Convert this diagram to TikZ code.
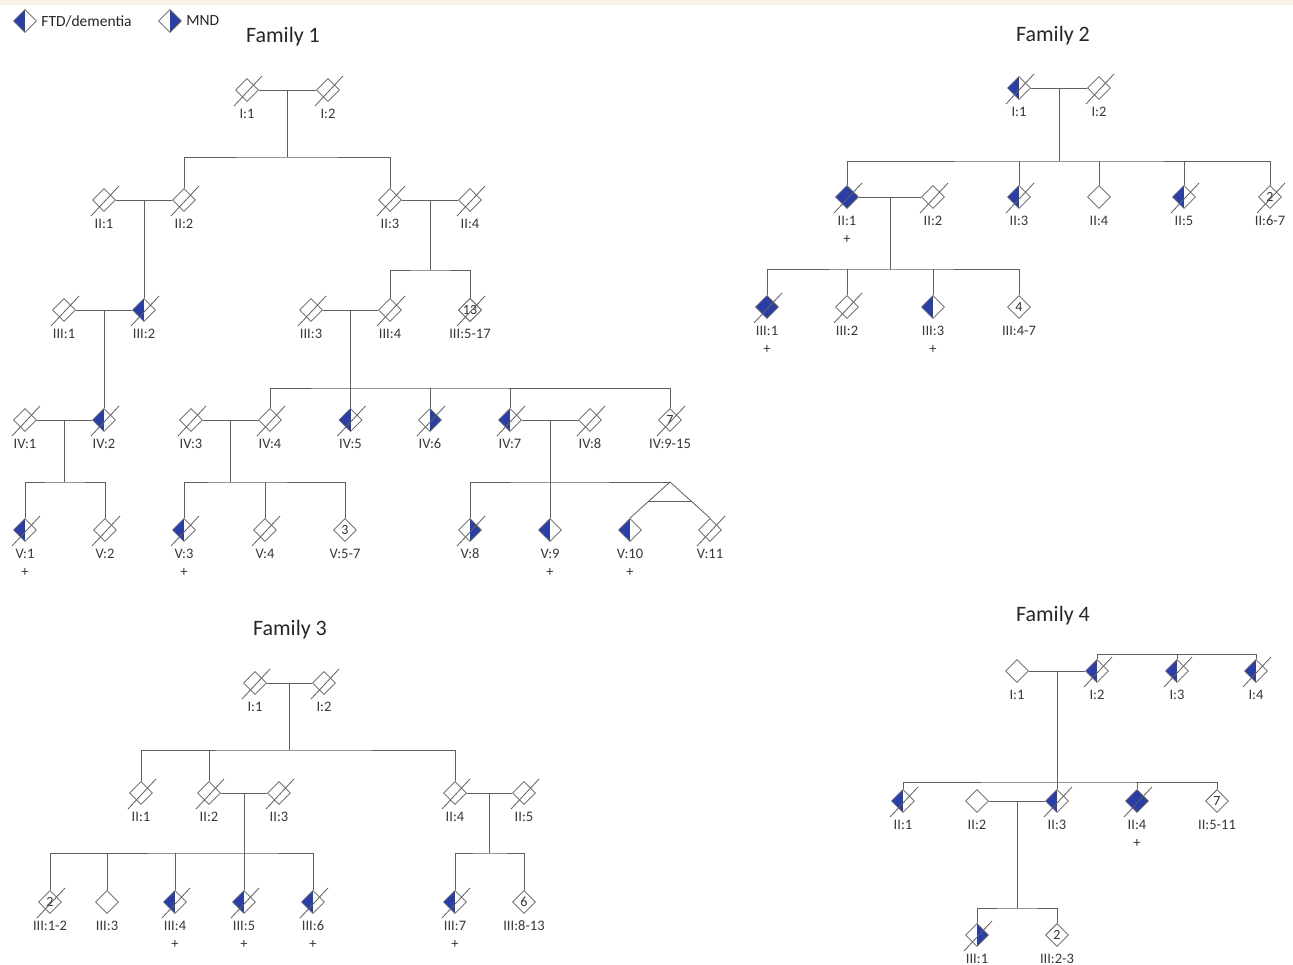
\documentclass[tikz,border=0pt]{standalone}
\usepackage{fontspec}
\setmainfont{Carlito}
\usetikzlibrary{shapes.geometric,calc}

\definecolor{fblue}{RGB}{43,62,166}
\definecolor{lgray}{RGB}{95,95,95}
\definecolor{band}{RGB}{247,243,228}

\begin{document}
\begin{tikzpicture}[x=1pt,y=-1pt,
  ind/.style={diamond,draw=lgray,line width=0.8pt,minimum width=23pt,minimum height=23pt,inner sep=0pt,font=\fontsize{14}{14}\selectfont,text=black!80},
  ftd/.style={path picture={\fill[fblue] (path picture bounding box.south west) rectangle (path picture bounding box.north);}},
  mnd/.style={path picture={\fill[fblue] (path picture bounding box.south) rectangle (path picture bounding box.north east);}},
  both/.style={fill=fblue},
  dead/.style={append after command={(\tikzlastnode.center) ++(-13pt,-16pt) edge[lgray,line width=0.8pt] ++(28pt,30pt)}},
  lbl/.style={font=\fontsize{14.5}{14.5}\selectfont,text=black!78},
  pid/.style={label={[lbl,yshift=-3.5pt]below:{#1}}},
  tested/.style={label={[lbl,yshift=-23pt]below:+}},
  line/.style={draw=lgray,line width=0.8pt},
  title/.style={font=\fontsize{22}{22}\selectfont,text=black!85},
  lgd/.style={font=\fontsize{15.5}{15.5}\selectfont,text=black!85,anchor=west}]
\useasboundingbox (0,0) rectangle (1293,965);
\fill[white] (0,0) rectangle (1293,965);
\fill[band] (0,0) rectangle (1293,5);
%
% legend
\node[ind,ftd] (legF) at (25,21) {};
\node[lgd] (legFt) at ([xshift=1pt]legF.east) {FTD/dementia};
\node[ind,mnd] (legM) at (170,21) {};
\node[lgd] (legMt) at ([xshift=1pt]legM.east) {MND};
%
% Family 1
\node[title] (t1) at (283,37) {Family 1};
\node[ind,dead,pid={I:1}] (F1I1) at (247,90) {};
\node[ind,dead,pid={I:2}] (F1I2) at (328,90) {};
\node[ind,dead,pid={II:1}] (F1II1) at (104,200) {};
\node[ind,dead,pid={II:2}] (F1II2) at (184,200) {};
\node[ind,dead,pid={II:3}] (F1II3) at (390,200) {};
\node[ind,dead,pid={II:4}] (F1II4) at (470,200) {};
\node[ind,dead,pid={III:1}] (F1III1) at (64,310) {};
\node[ind,dead,ftd,pid={III:2}] (F1III2) at (144,310) {};
\node[ind,dead,pid={III:3}] (F1III3) at (311,310) {};
\node[ind,dead,pid={III:4}] (F1III4) at (390,310) {};
\node[ind,dead,pid={III:5-17}] (F1III5) at (470,310) {13};
\node[ind,dead,pid={IV:1}] (F1IV1) at (25,420) {};
\node[ind,dead,ftd,pid={IV:2}] (F1IV2) at (104,420) {};
\node[ind,dead,pid={IV:3}] (F1IV3) at (191,420) {};
\node[ind,dead,pid={IV:4}] (F1IV4) at (270,420) {};
\node[ind,dead,ftd,pid={IV:5}] (F1IV5) at (350.5,420) {};
\node[ind,dead,mnd,pid={IV:6}] (F1IV6) at (430,420) {};
\node[ind,dead,ftd,pid={IV:7}] (F1IV7) at (510,420) {};
\node[ind,dead,pid={IV:8}] (F1IV8) at (590,420) {};
\node[ind,dead,pid={IV:9-15}] (F1IV9) at (670,420) {7};
\node[ind,dead,ftd,tested,pid={V:1}] (F1V1) at (25,530) {};
\node[ind,dead,pid={V:2}] (F1V2) at (105,530) {};
\node[ind,dead,ftd,tested,pid={V:3}] (F1V3) at (184,530) {};
\node[ind,dead,pid={V:4}] (F1V4) at (265,530) {};
\node[ind,pid={V:5-7}] (F1V5) at (345,530) {3};
\node[ind,dead,mnd,pid={V:8}] (F1V8) at (470,530) {};
\node[ind,ftd,tested,pid={V:9}] (F1V9) at (550,530) {};
\node[ind,ftd,tested,pid={V:10}] (F1V10) at (630,530) {};
\node[ind,dead,pid={V:11}] (F1V11) at (710,530) {};
%
\draw[line] (F1I1) -- (F1I2);
\draw[line] ($(F1I1)!.5!(F1I2)$) -- ++(0,67) coordinate (F1s1);
\draw[line] (F1II2) |- (F1s1) -| (F1II3);
\draw[line] (F1II1) -- (F1II2);
\draw[line] ($(F1II1)!.5!(F1II2)$) -- (F1III2);
\draw[line] (F1II3) -- (F1II4);
\draw[line] ($(F1II3)!.5!(F1II4)$) -- ++(0,70) coordinate (F1s2);
\draw[line] (F1III4) |- (F1s2) -| (F1III5);
\draw[line] (F1III1) -- (F1III2);
\draw[line] ($(F1III1)!.5!(F1III2)$) -- (F1IV2);
\draw[line] (F1III3) -- (F1III4);
\draw[line] ($(F1III3)!.5!(F1III4)$) -- ++(0,78) coordinate (F1s3);
\draw[line] (F1IV4) |- (F1s3) -| (F1IV9);
\draw[line] (F1IV5) -- (F1s3);
\draw[line] (F1IV6) -- (F1IV6 |- F1s3);
\draw[line] (F1IV7) -- (F1IV7 |- F1s3);
\draw[line] (F1IV1) -- (F1IV2);
\draw[line] ($(F1IV1)!.5!(F1IV2)$) -- ++(0,62) coordinate (F1s4);
\draw[line] (F1V1) |- (F1s4) -| (F1V2);
\draw[line] (F1IV3) -- (F1IV4);
\draw[line] ($(F1IV3)!.5!(F1IV4)$) -- ++(0,62) coordinate (F1s5);
\draw[line] (F1V3) |- (F1s5) -| (F1V5);
\draw[line] (F1V4) -- (F1V4 |- F1s5);
\draw[line] (F1IV7) -- (F1IV8);
\draw[line] ($(F1IV7)!.5!(F1IV8)$) -- ++(0,62) coordinate (F1s6);
\coordinate (F1tw) at (F1s6 -| F1V11);
\coordinate (F1tw) at ($(F1tw)!.5!(F1s6 -| F1V10)$);
\draw[line] (F1V8) |- (F1s6) -- (F1tw);
\draw[line] (F1V9) -- (F1s6);
\draw[line] (F1V10.north) -- (F1tw) -- (F1V11.north);
\draw[line] ($(F1tw)!.55!(F1V10.north)$) -- ($(F1tw)!.55!(F1V11.north)$);
%
% Family 2
\node[title] (t2) at (1053,36) {Family 2};
\node[ind,dead,ftd,pid={I:1}] (F2I1) at (1019,88) {};
\node[ind,dead,pid={I:2}] (F2I2) at (1099,88) {};
\node[ind,dead,both,tested,pid={II:1}] (F2II1) at (847,197) {};
\node[ind,dead,pid={II:2}] (F2II2) at (933,197) {};
\node[ind,dead,ftd,pid={II:3}] (F2II3) at (1019,197) {};
\node[ind,pid={II:4}] (F2II4) at (1099,197) {};
\node[ind,dead,ftd,pid={II:5}] (F2II5) at (1184,197) {};
\node[ind,dead,pid={II:6-7}] (F2II6) at (1270,197) {2};
\node[ind,dead,both,tested,pid={III:1}] (F2III1) at (767,307) {};
\node[ind,dead,pid={III:2}] (F2III2) at (847,307) {};
\node[ind,ftd,tested,pid={III:3}] (F2III3) at (933,307) {};
\node[ind,pid={III:4-7}] (F2III4) at (1019,307) {4};
%
\draw[line] (F2I1) -- (F2I2);
\draw[line] ($(F2I1)!.5!(F2I2)$) -- ++(0,73) coordinate (F2s1);
\draw[line] (F2II1) |- (F2s1) -| (F2II6);
\foreach \n in {II3,II4,II5} \draw[line] (F2\n) -- (F2\n |- F2s1);
\draw[line] (F2II1) -- (F2II2);
\draw[line] ($(F2II1)!.5!(F2II2)$) -- ++(0,72) coordinate (F2s2);
\draw[line] (F2III1) |- (F2s2) -| (F2III4);
\foreach \n in {III2,III3} \draw[line] (F2\n) -- (F2\n |- F2s2);
%
% Family 3
\node[title] (t3) at (290,630) {Family 3};
\node[ind,dead,pid={I:1}] (F3I1) at (255,683) {};
\node[ind,dead,pid={I:2}] (F3I2) at (324,683) {};
\node[ind,dead,pid={II:1}] (F3II1) at (141,793) {};
\node[ind,dead,pid={II:2}] (F3II2) at (209,793) {};
\node[ind,dead,pid={II:3}] (F3II3) at (279,793) {};
\node[ind,dead,pid={II:4}] (F3II4) at (455,793) {};
\node[ind,dead,pid={II:5}] (F3II5) at (524,793) {};
\node[ind,dead,pid={III:1-2}] (F3III1) at (50,902) {2};
\node[ind,pid={III:3}] (F3III3) at (107,902) {};
\node[ind,dead,ftd,tested,pid={III:4}] (F3III4) at (175,902) {};
\node[ind,dead,ftd,tested,pid={III:5}] (F3III5) at (244,902) {};
\node[ind,dead,ftd,tested,pid={III:6}] (F3III6) at (313,902) {};
\node[ind,dead,ftd,tested,pid={III:7}] (F3III7) at (455,902) {};
\node[ind,pid={III:8-13}] (F3III8) at (524,902) {6};
%
\draw[line] (F3I1) -- (F3I2);
\draw[line] ($(F3I1)!.5!(F3I2)$) -- ++(0,67) coordinate (F3s1);
\draw[line] (F3II1) |- (F3s1) -| (F3II4);
\draw[line] (F3II2) -- (F3II2 |- F3s1);
\draw[line] (F3II2) -- (F3II3);
\draw[line] ($(F3II2)!.5!(F3II3)$) -- ++(0,60) coordinate (F3s2);
\draw[line] (F3III1) |- (F3s2) -| (F3III6);
\foreach \n in {III3,III4,III5} \draw[line] (F3\n) -- (F3\n |- F3s2);
\draw[line] (F3II4) -- (F3II5);
\draw[line] ($(F3II4)!.5!(F3II5)$) -- ++(0,60) coordinate (F3s3);
\draw[line] (F3III7) |- (F3s3) -| (F3III8);
%
% Family 4
\node[title] (t4) at (1053,616) {Family 4};
\node[ind,pid={I:1}] (F4I1) at (1017,671) {};
\node[ind,dead,ftd,pid={I:2}] (F4I2) at (1097,671) {};
\node[ind,dead,ftd,pid={I:3}] (F4I3) at (1177,671) {};
\node[ind,dead,ftd,pid={I:4}] (F4I4) at (1256,671) {};
\node[ind,dead,ftd,pid={II:1}] (F4II1) at (903,801) {};
\node[ind,pid={II:2}] (F4II2) at (977,801) {};
\node[ind,dead,ftd,pid={II:3}] (F4II3) at (1057,801) {};
\node[ind,dead,both,tested,pid={II:4}] (F4II4) at (1137,801) {};
\node[ind,pid={II:5-11}] (F4II5) at (1217,801) {7};
\node[ind,dead,mnd,pid={III:1}] (F4III1) at (977,935) {};
\node[ind,pid={III:2-3}] (F4III2) at (1057,935) {2};
%
\coordinate (F4s0) at ($(F4I3.north)+(0,-4.5)$);
\draw[line] (F4I2) |- (F4s0) -| (F4I4);
\draw[line] (F4I3) -- (F4s0);
\draw[line] (F4I1) -- (F4I2);
\draw[line] ($(F4I1)!.5!(F4I2)$) -- ++(0,111) coordinate (F4s1);
\draw[line] (F4II1) |- (F4s1) -| (F4II5);
\draw[line] (F4II3) -- (F4s1);
\draw[line] (F4II4) -- (F4II4 |- F4s1);
\draw[line] (F4II2) -- (F4II3);
\draw[line] ($(F4II2)!.5!(F4II3)$) -- ++(0,107) coordinate (F4s2);
\draw[line] (F4III1) |- (F4s2) -| (F4III2);
\end{tikzpicture}
\end{document}
